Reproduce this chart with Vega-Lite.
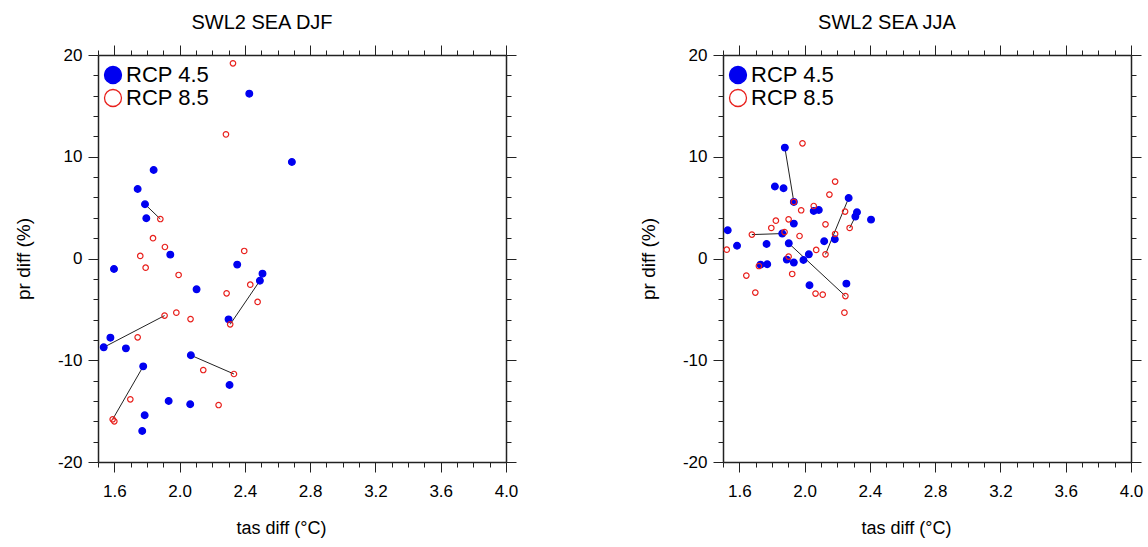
{
  "$schema": "https://vega.github.io/schema/vega-lite/v6.json",
  "padding": {"left": 14, "top": 12, "right": 5, "bottom": 5},
  "background": "white",
  "datasets": {
    "pts": [
      {"panel": "DJF", "scen": "RCP 4.5", "x": 2.427, "y": 16.2},
      {"panel": "DJF", "scen": "RCP 4.5", "x": 2.688, "y": 9.48},
      {"panel": "DJF", "scen": "RCP 4.5", "x": 1.841, "y": 8.7},
      {"panel": "DJF", "scen": "RCP 4.5", "x": 1.743, "y": 6.83},
      {"panel": "DJF", "scen": "RCP 4.5", "x": 1.788, "y": 5.33},
      {"panel": "DJF", "scen": "RCP 4.5", "x": 1.796, "y": 3.95},
      {"panel": "DJF", "scen": "RCP 4.5", "x": 1.943, "y": 0.38},
      {"panel": "DJF", "scen": "RCP 4.5", "x": 1.598, "y": -1.03},
      {"panel": "DJF", "scen": "RCP 4.5", "x": 2.353, "y": -0.6},
      {"panel": "DJF", "scen": "RCP 4.5", "x": 2.508, "y": -1.49},
      {"panel": "DJF", "scen": "RCP 4.5", "x": 2.492, "y": -2.18},
      {"panel": "DJF", "scen": "RCP 4.5", "x": 2.104, "y": -3.03},
      {"panel": "DJF", "scen": "RCP 4.5", "x": 2.3, "y": -5.98},
      {"panel": "DJF", "scen": "RCP 4.5", "x": 1.576, "y": -7.78},
      {"panel": "DJF", "scen": "RCP 4.5", "x": 1.535, "y": -8.73},
      {"panel": "DJF", "scen": "RCP 4.5", "x": 1.671, "y": -8.83},
      {"panel": "DJF", "scen": "RCP 4.5", "x": 2.069, "y": -9.51},
      {"panel": "DJF", "scen": "RCP 4.5", "x": 1.777, "y": -10.6},
      {"panel": "DJF", "scen": "RCP 4.5", "x": 2.306, "y": -12.43},
      {"panel": "DJF", "scen": "RCP 4.5", "x": 1.933, "y": -14.0},
      {"panel": "DJF", "scen": "RCP 4.5", "x": 2.065, "y": -14.33},
      {"panel": "DJF", "scen": "RCP 4.5", "x": 1.786, "y": -15.41},
      {"panel": "DJF", "scen": "RCP 4.5", "x": 1.771, "y": -16.95},
      {"panel": "DJF", "scen": "RCP 8.5", "x": 2.327, "y": 19.18},
      {"panel": "DJF", "scen": "RCP 8.5", "x": 2.284, "y": 12.2},
      {"panel": "DJF", "scen": "RCP 8.5", "x": 1.882, "y": 3.88},
      {"panel": "DJF", "scen": "RCP 8.5", "x": 1.837, "y": 2.0},
      {"panel": "DJF", "scen": "RCP 8.5", "x": 1.91, "y": 1.13},
      {"panel": "DJF", "scen": "RCP 8.5", "x": 2.396, "y": 0.74},
      {"panel": "DJF", "scen": "RCP 8.5", "x": 1.759, "y": 0.25},
      {"panel": "DJF", "scen": "RCP 8.5", "x": 1.792, "y": -0.9},
      {"panel": "DJF", "scen": "RCP 8.5", "x": 1.994, "y": -1.62},
      {"panel": "DJF", "scen": "RCP 8.5", "x": 2.433, "y": -2.57},
      {"panel": "DJF", "scen": "RCP 8.5", "x": 2.288, "y": -3.42},
      {"panel": "DJF", "scen": "RCP 8.5", "x": 2.478, "y": -4.27},
      {"panel": "DJF", "scen": "RCP 8.5", "x": 1.908, "y": -5.61},
      {"panel": "DJF", "scen": "RCP 8.5", "x": 1.98, "y": -5.32},
      {"panel": "DJF", "scen": "RCP 8.5", "x": 2.067, "y": -5.95},
      {"panel": "DJF", "scen": "RCP 8.5", "x": 2.31, "y": -6.47},
      {"panel": "DJF", "scen": "RCP 8.5", "x": 1.743, "y": -7.75},
      {"panel": "DJF", "scen": "RCP 8.5", "x": 2.145, "y": -10.96},
      {"panel": "DJF", "scen": "RCP 8.5", "x": 2.333, "y": -11.35},
      {"panel": "DJF", "scen": "RCP 8.5", "x": 1.698, "y": -13.84},
      {"panel": "DJF", "scen": "RCP 8.5", "x": 2.239, "y": -14.4},
      {"panel": "DJF", "scen": "RCP 8.5", "x": 1.59, "y": -15.8},
      {"panel": "DJF", "scen": "RCP 8.5", "x": 1.6, "y": -16.0},
      {"panel": "JJA", "scen": "RCP 4.5", "x": 1.879, "y": 10.9},
      {"panel": "JJA", "scen": "RCP 4.5", "x": 1.818, "y": 7.07},
      {"panel": "JJA", "scen": "RCP 4.5", "x": 1.871, "y": 6.9},
      {"panel": "JJA", "scen": "RCP 4.5", "x": 1.934, "y": 5.56},
      {"panel": "JJA", "scen": "RCP 4.5", "x": 2.27, "y": 5.95},
      {"panel": "JJA", "scen": "RCP 4.5", "x": 2.056, "y": 4.67},
      {"panel": "JJA", "scen": "RCP 4.5", "x": 2.087, "y": 4.77},
      {"panel": "JJA", "scen": "RCP 4.5", "x": 2.321, "y": 4.54},
      {"panel": "JJA", "scen": "RCP 4.5", "x": 2.311, "y": 4.12},
      {"panel": "JJA", "scen": "RCP 4.5", "x": 2.407, "y": 3.82},
      {"panel": "JJA", "scen": "RCP 4.5", "x": 1.934, "y": 3.43},
      {"panel": "JJA", "scen": "RCP 4.5", "x": 1.863, "y": 2.45},
      {"panel": "JJA", "scen": "RCP 4.5", "x": 1.529, "y": 2.77},
      {"panel": "JJA", "scen": "RCP 4.5", "x": 1.586, "y": 1.25},
      {"panel": "JJA", "scen": "RCP 4.5", "x": 1.767, "y": 1.43},
      {"panel": "JJA", "scen": "RCP 4.5", "x": 1.903, "y": 1.49},
      {"panel": "JJA", "scen": "RCP 4.5", "x": 2.12, "y": 1.69},
      {"panel": "JJA", "scen": "RCP 4.5", "x": 2.185, "y": 1.89},
      {"panel": "JJA", "scen": "RCP 4.5", "x": 2.026, "y": 0.41},
      {"panel": "JJA", "scen": "RCP 4.5", "x": 1.891, "y": -0.11},
      {"panel": "JJA", "scen": "RCP 4.5", "x": 1.934, "y": -0.4},
      {"panel": "JJA", "scen": "RCP 4.5", "x": 1.993, "y": -0.15},
      {"panel": "JJA", "scen": "RCP 4.5", "x": 1.73, "y": -0.6},
      {"panel": "JJA", "scen": "RCP 4.5", "x": 1.771, "y": -0.57},
      {"panel": "JJA", "scen": "RCP 4.5", "x": 2.03, "y": -2.63},
      {"panel": "JJA", "scen": "RCP 4.5", "x": 2.256, "y": -2.47},
      {"panel": "JJA", "scen": "RCP 8.5", "x": 1.987, "y": 11.32},
      {"panel": "JJA", "scen": "RCP 8.5", "x": 2.187, "y": 7.56},
      {"panel": "JJA", "scen": "RCP 8.5", "x": 2.152, "y": 6.28},
      {"panel": "JJA", "scen": "RCP 8.5", "x": 1.934, "y": 5.56},
      {"panel": "JJA", "scen": "RCP 8.5", "x": 1.979, "y": 4.74},
      {"panel": "JJA", "scen": "RCP 8.5", "x": 2.056, "y": 5.16},
      {"panel": "JJA", "scen": "RCP 8.5", "x": 2.248, "y": 4.61},
      {"panel": "JJA", "scen": "RCP 8.5", "x": 2.276, "y": 3.0},
      {"panel": "JJA", "scen": "RCP 8.5", "x": 1.902, "y": 3.85},
      {"panel": "JJA", "scen": "RCP 8.5", "x": 1.824, "y": 3.72},
      {"panel": "JJA", "scen": "RCP 8.5", "x": 1.796, "y": 3.0},
      {"panel": "JJA", "scen": "RCP 8.5", "x": 2.128, "y": 3.36},
      {"panel": "JJA", "scen": "RCP 8.5", "x": 1.877, "y": 2.6},
      {"panel": "JJA", "scen": "RCP 8.5", "x": 1.677, "y": 2.35},
      {"panel": "JJA", "scen": "RCP 8.5", "x": 1.969, "y": 2.21},
      {"panel": "JJA", "scen": "RCP 8.5", "x": 2.187, "y": 2.41},
      {"panel": "JJA", "scen": "RCP 8.5", "x": 1.523, "y": 0.87},
      {"panel": "JJA", "scen": "RCP 8.5", "x": 2.071, "y": 0.84},
      {"panel": "JJA", "scen": "RCP 8.5", "x": 2.128, "y": 0.41},
      {"panel": "JJA", "scen": "RCP 8.5", "x": 1.902, "y": 0.19},
      {"panel": "JJA", "scen": "RCP 8.5", "x": 1.72, "y": -0.74},
      {"panel": "JJA", "scen": "RCP 8.5", "x": 1.643, "y": -1.68},
      {"panel": "JJA", "scen": "RCP 8.5", "x": 1.924, "y": -1.52},
      {"panel": "JJA", "scen": "RCP 8.5", "x": 1.698, "y": -3.35},
      {"panel": "JJA", "scen": "RCP 8.5", "x": 2.067, "y": -3.45},
      {"panel": "JJA", "scen": "RCP 8.5", "x": 2.111, "y": -3.55},
      {"panel": "JJA", "scen": "RCP 8.5", "x": 2.25, "y": -3.69},
      {"panel": "JJA", "scen": "RCP 8.5", "x": 2.244, "y": -5.32}
    ],
    "segs": [
      {"panel": "DJF", "x": 1.788, "y": 5.33, "x2": 1.882, "y2": 3.88},
      {"panel": "DJF", "x": 2.492, "y": -2.18, "x2": 2.31, "y2": -6.47},
      {"panel": "DJF", "x": 1.535, "y": -8.73, "x2": 1.908, "y2": -5.61},
      {"panel": "DJF", "x": 2.069, "y": -9.51, "x2": 2.333, "y2": -11.35},
      {"panel": "DJF", "x": 1.777, "y": -10.6, "x2": 1.59, "y2": -15.8},
      {"panel": "JJA", "x": 1.879, "y": 10.9, "x2": 1.934, "y2": 5.56},
      {"panel": "JJA", "x": 2.27, "y": 5.95, "x2": 2.128, "y2": 0.41},
      {"panel": "JJA", "x": 2.311, "y": 4.12, "x2": 2.276, "y2": 3.0},
      {"panel": "JJA", "x": 1.677, "y": 2.35, "x2": 1.863, "y2": 2.45},
      {"panel": "JJA", "x": 1.903, "y": 1.49, "x2": 2.25, "y2": -3.69}
    ]
  },
  "config": {
    "view": {"stroke": null},
    "font": "Liberation Sans",
    "axis": {
      "grid": false,
      "domainColor": "#222",
      "domainWidth": 1.5,
      "tickColor": "#222",
      "tickWidth": 1,
      "labelFont": "Liberation Sans",
      "labelFontSize": 17,
      "labelColor": "#000",
      "titleFont": "Liberation Sans",
      "titleFontSize": 19,
      "titleFontWeight": "normal",
      "titleColor": "#000",
      "labelOverlap": false,
      "labelFlush": false,
      "labelBound": false
    },
    "legend": {
      "orient": "none",
      "legendX": 4,
      "legendY": 9,
      "padding": 0,
      "symbolSize": 289,
      "symbolStrokeWidth": 1.3,
      "labelFontSize": 22,
      "labelFont": "Liberation Sans",
      "labelColor": "#000",
      "labelOffset": 2,
      "rowPadding": -1
    },
    "title": {"font": "Liberation Sans", "fontSize": 20, "fontWeight": "normal", "color": "#000", "offset": 12, "dx": -40}
  },
  "spacing": 121,
  "resolve": {
    "scale": {"stroke": "independent", "fill": "independent"},
    "legend": {"stroke": "independent", "fill": "independent"}
  },
  "hconcat": [
    {
      "title": {"text": "SWL2 SEA DJF"},
      "width": 408,
      "height": 407,
      "layer": [
        {
          "data": {"name": "segs"},
          "transform": [{"filter": "datum.panel === 'DJF'"}],
          "mark": {"type": "rule", "color": "#222", "strokeWidth": 1},
          "encoding": {
            "x": {"field": "x", "type": "quantitative", "scale": {"domain": [1.5, 4.0], "nice": false, "zero": false},
              "axis": {"orient": "bottom", "title": "tas diff (°C)", "titleFontSize": 18, "titleX": 183, "values": [1.5,1.6,1.7,1.8,1.9,2.0,2.1,2.2,2.3,2.4,2.5,2.6,2.7,2.8,2.9,3.0,3.1,3.2,3.3,3.4,3.5,3.6,3.7,3.8,3.9,4.0],
                "tickSize": {"condition": {"test": "abs(datum.value*10 - round(datum.value*10/4)*4) < 0.01", "value": 10}, "value": 5},
                "labelExpr": "abs(datum.value*10 - round(datum.value*10/4)*4) < 0.01 ? format(datum.value, '.1f') : ''",
                "labelPadding": 11, "titlePadding": 20}},
            "x2": {"field": "x2"},
            "y": {"field": "y", "type": "quantitative", "scale": {"domain": [-20, 20], "nice": false, "zero": false},
              "axis": {"orient": "left", "title": "pr diff (%)", "values": [-20,-18,-16,-14,-12,-10,-8,-6,-4,-2,0,2,4,6,8,10,12,14,16,18,20],
                "tickSize": {"condition": {"test": "abs(datum.value % 10) < 0.01", "value": 10}, "value": 5},
                "labelExpr": "abs(datum.value % 10) < 0.01 ? '' + datum.value : ''",
                "labelPadding": 6, "titlePadding": 24}},
            "y2": {"field": "y2"}
          }
        },
        {
          "data": {"name": "pts"},
          "transform": [{"filter": "datum.panel === 'DJF' && datum.scen === 'RCP 4.5'"}],
          "mark": {"type": "point", "shape": "circle", "size": 44, "strokeWidth": 1.3, "opacity": 1},
          "encoding": {
            "x": {"field": "x", "type": "quantitative",
              "axis": {"orient": "top", "title": null, "labels": false, "values": [1.5,1.6,1.7,1.8,1.9,2.0,2.1,2.2,2.3,2.4,2.5,2.6,2.7,2.8,2.9,3.0,3.1,3.2,3.3,3.4,3.5,3.6,3.7,3.8,3.9,4.0],
                "tickSize": {"condition": {"test": "abs(datum.value*10 - round(datum.value*10/4)*4) < 0.01", "value": 10}, "value": 5}}},
            "y": {"field": "y", "type": "quantitative",
              "axis": {"orient": "right", "title": null, "labels": false, "values": [-20,-18,-16,-14,-12,-10,-8,-6,-4,-2,0,2,4,6,8,10,12,14,16,18,20],
                "tickSize": {"condition": {"test": "abs(datum.value % 10) < 0.01", "value": 10}, "value": 5}}},
            "stroke": {"field": "scen", "type": "nominal", "scale": {"domain": ["RCP 4.5", "RCP 8.5"], "range": ["#0000f0", "#e8201c"]}, "legend": {"title": null}},
            "fill": {"field": "scen", "type": "nominal", "scale": {"domain": ["RCP 4.5", "RCP 8.5"], "range": ["#0000f0", "transparent"]}, "legend": {"title": null}}
          }
        },
        {
          "data": {"name": "pts"},
          "transform": [{"filter": "datum.panel === 'DJF' && datum.scen === 'RCP 8.5'"}],
          "mark": {"type": "point", "shape": "circle", "filled": false, "size": 30, "strokeWidth": 1.2, "opacity": 1, "color": "#e8201c"},
          "encoding": {
            "x": {"field": "x", "type": "quantitative", "axis": null},
            "y": {"field": "y", "type": "quantitative", "axis": null}
          }
        }
      ],
      "resolve": {"axis": {"x": "independent", "y": "independent"}}
    },
    {
      "title": {"text": "SWL2 SEA JJA"},
      "width": 408,
      "height": 407,
      "layer": [
        {
          "data": {"name": "segs"},
          "transform": [{"filter": "datum.panel === 'JJA'"}],
          "mark": {"type": "rule", "color": "#222", "strokeWidth": 1},
          "encoding": {
            "x": {"field": "x", "type": "quantitative", "scale": {"domain": [1.5, 4.0], "nice": false, "zero": false},
              "axis": {"orient": "bottom", "title": "tas diff (°C)", "titleFontSize": 18, "titleX": 183, "values": [1.5,1.6,1.7,1.8,1.9,2.0,2.1,2.2,2.3,2.4,2.5,2.6,2.7,2.8,2.9,3.0,3.1,3.2,3.3,3.4,3.5,3.6,3.7,3.8,3.9,4.0],
                "tickSize": {"condition": {"test": "abs(datum.value*10 - round(datum.value*10/4)*4) < 0.01", "value": 10}, "value": 5},
                "labelExpr": "abs(datum.value*10 - round(datum.value*10/4)*4) < 0.01 ? format(datum.value, '.1f') : ''",
                "labelPadding": 11, "titlePadding": 20}},
            "x2": {"field": "x2"},
            "y": {"field": "y", "type": "quantitative", "scale": {"domain": [-20, 20], "nice": false, "zero": false},
              "axis": {"orient": "left", "title": "pr diff (%)", "values": [-20,-18,-16,-14,-12,-10,-8,-6,-4,-2,0,2,4,6,8,10,12,14,16,18,20],
                "tickSize": {"condition": {"test": "abs(datum.value % 10) < 0.01", "value": 10}, "value": 5},
                "labelExpr": "abs(datum.value % 10) < 0.01 ? '' + datum.value : ''",
                "labelPadding": 6, "titlePadding": 24}},
            "y2": {"field": "y2"}
          }
        },
        {
          "data": {"name": "pts"},
          "transform": [{"filter": "datum.panel === 'JJA' && datum.scen === 'RCP 4.5'"}],
          "mark": {"type": "point", "shape": "circle", "size": 44, "strokeWidth": 1.3, "opacity": 1},
          "encoding": {
            "x": {"field": "x", "type": "quantitative",
              "axis": {"orient": "top", "title": null, "labels": false, "values": [1.5,1.6,1.7,1.8,1.9,2.0,2.1,2.2,2.3,2.4,2.5,2.6,2.7,2.8,2.9,3.0,3.1,3.2,3.3,3.4,3.5,3.6,3.7,3.8,3.9,4.0],
                "tickSize": {"condition": {"test": "abs(datum.value*10 - round(datum.value*10/4)*4) < 0.01", "value": 10}, "value": 5}}},
            "y": {"field": "y", "type": "quantitative",
              "axis": {"orient": "right", "title": null, "labels": false, "values": [-20,-18,-16,-14,-12,-10,-8,-6,-4,-2,0,2,4,6,8,10,12,14,16,18,20],
                "tickSize": {"condition": {"test": "abs(datum.value % 10) < 0.01", "value": 10}, "value": 5}}},
            "stroke": {"field": "scen", "type": "nominal", "scale": {"domain": ["RCP 4.5", "RCP 8.5"], "range": ["#0000f0", "#e8201c"]}, "legend": {"title": null}},
            "fill": {"field": "scen", "type": "nominal", "scale": {"domain": ["RCP 4.5", "RCP 8.5"], "range": ["#0000f0", "transparent"]}, "legend": {"title": null}}
          }
        },
        {
          "data": {"name": "pts"},
          "transform": [{"filter": "datum.panel === 'JJA' && datum.scen === 'RCP 8.5'"}],
          "mark": {"type": "point", "shape": "circle", "filled": false, "size": 30, "strokeWidth": 1.2, "opacity": 1, "color": "#e8201c"},
          "encoding": {
            "x": {"field": "x", "type": "quantitative", "axis": null},
            "y": {"field": "y", "type": "quantitative", "axis": null}
          }
        }
      ],
      "resolve": {"axis": {"x": "independent", "y": "independent"}}
    }
  ]
}
